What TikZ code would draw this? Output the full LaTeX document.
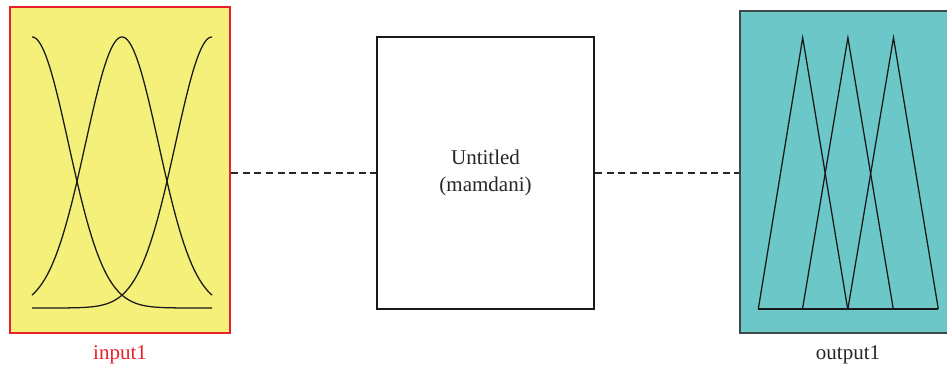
\documentclass[tikz,border=0pt]{standalone}
\usepackage{fontspec}
\setmainfont{Liberation Serif}
\begin{document}
\begin{tikzpicture}[x=0.75pt,y=-0.75pt,
  every node/.style={font=\fontsize{15.75}{20.2}\selectfont},
  fisbox/.style={draw, minimum width=#1, inner sep=0pt},
  link/.style={draw=black!85, line width=1.6pt, dash pattern=on 5.2pt off 3.5pt},
  mf/.style={line width=0.95pt, black!90}]
\definecolor{inyellow}{HTML}{F5F07A}
\definecolor{inred}{HTML}{E8202A}
\definecolor{outteal}{HTML}{6CC8C8}
\definecolor{outborder}{HTML}{3E4A4A}
\useasboundingbox (0,0) rectangle (947,368);
\clip (0,0) rectangle (947,368);
% boxes
\node[fisbox=165pt, minimum height=244.5pt, fill=inyellow, draw=inred, line width=1.9pt] (in1) at (120,170) {};
\node[fisbox=162.75pt, minimum height=204pt, fill=white, draw=black!90, line width=1.9pt, align=center, text=black!85] (mid) at (485.5,173) {Untitled\\(mamdani)};
\node[fisbox=159pt, minimum height=241.5pt, fill=outteal, draw=outborder, line width=1.6pt] (out1) at (846,172) {};
% labels
\node[text=inred, anchor=base] (lin) at (120,359) {input1};
\node[text=black!85, anchor=base] (lout) at (848,359) {output1};
% connectors
\draw[link] (in1.east |- mid.west) -- (mid.west);
\draw[link] (mid.east) -- (out1.west |- mid.east);
% gaussian membership functions
\draw[mf] plot[domain=32:212, samples=120, smooth] (\x, {308-271*exp(-((\x-32)/51.6)^2)});
\draw[mf] plot[domain=32:212, samples=120, smooth] (\x, {308-271*exp(-((\x-122)/51.6)^2)});
\draw[mf] plot[domain=32:212, samples=120, smooth] (\x, {308-271*exp(-((\x-212)/51.6)^2)});
% triangular membership functions
\draw[mf] (758.3,309) -- (802.7,37.7) -- (847.7,309);
\draw[mf] (802.5,309) -- (847.9,37.7) -- (893.3,309);
\draw[mf] (847.9,309) -- (893.5,37.7) -- (938.3,309);
\draw[mf] (758.3,309) -- (938.3,309);
\end{tikzpicture}
\end{document}
